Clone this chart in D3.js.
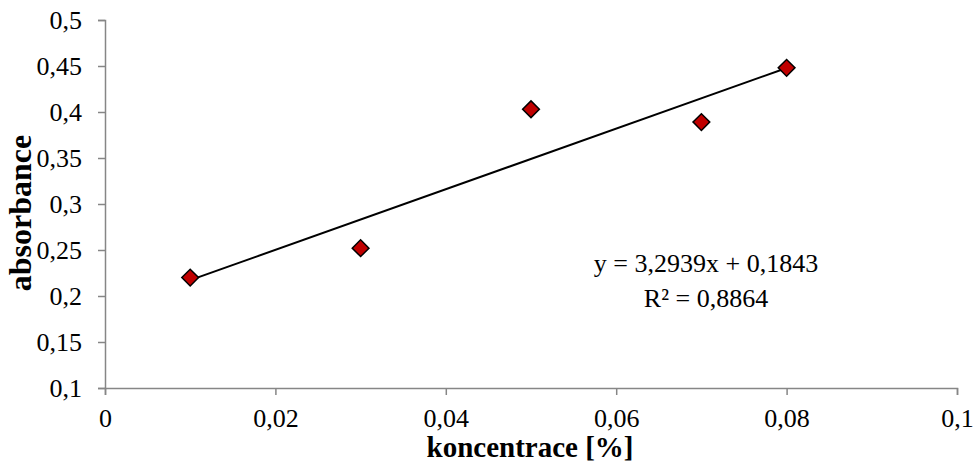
<!DOCTYPE html>
<html>
<head>
<meta charset="utf-8">
<script src="https://cdn.jsdelivr.net/npm/d3@7"></script>
<style>
  body { margin: 0; background: #fff; }
  text { font-family: "Liberation Serif", "Times New Roman", serif; }
</style>
</head>
<body>
<div id="chart"></div>
<script>
const concentration = [0.01, 0.03, 0.05, 0.07, 0.08];
const absorbance = [0.22, 0.252, 0.403, 0.389, 0.448];
const xTicks = [0, 0.02, 0.04, 0.06, 0.08, 0.1];
const yTicks = [0.1, 0.15, 0.2, 0.25, 0.3, 0.35, 0.4, 0.45, 0.5];
const equationLines = ["y = 3,2939x + 0,1843", "R\u00b2 = 0,8864"];

const width = 974;
const height = 472;
const marginTop = 20;
const marginRight = 17;
const marginBottom = 84; // room for x labels + title
const marginLeft = 105;

const fmt = (d) => String(d).replace(".", ",");

const x = d3.scaleLinear().domain([0, 0.1]).range([marginLeft, width - marginRight]);
const y = d3.scaleLinear().domain([0.1, 0.5]).range([height - marginBottom, marginTop]);

const svg = d3.select("#chart").append("svg")
  .attr("width", width)
  .attr("height", height);

// axes
const xAxis = svg.append("g")
  .attr("transform", `translate(0,${y(0.1)})`)
  .call(d3.axisBottom(x).tickValues(xTicks).tickFormat(fmt).tickSize(7).tickSizeOuter(7).tickPadding(14));

const yAxis = svg.append("g")
  .attr("transform", `translate(${x(0)},0)`)
  .call(d3.axisLeft(y).tickValues(yTicks).tickFormat(fmt).tickSize(7).tickSizeOuter(7).tickPadding(16));

[xAxis, yAxis].forEach((g) => {
  g.select(".domain").attr("stroke", "#868686").attr("stroke-width", 1.5);
  g.selectAll(".tick line").attr("stroke", "#868686").attr("stroke-width", 1.5);
  g.selectAll(".tick text")
    .attr("fill", "#000")
    .style("font-size", "26px")
    .style("font-family", "'Liberation Serif', serif");
});

// trendline (least squares)
const mx = d3.mean(concentration);
const my = d3.mean(absorbance);
const slope = d3.sum(concentration, (c, i) => (c - mx) * (absorbance[i] - my)) /
  d3.sum(concentration, (c) => (c - mx) ** 2);
const intercept = my - slope * mx;
const [x0, x1] = d3.extent(concentration);

svg.append("line")
  .attr("x1", x(x0)).attr("y1", y(intercept + slope * x0))
  .attr("x2", x(x1)).attr("y2", y(intercept + slope * x1))
  .attr("stroke", "#000")
  .attr("stroke-width", 2);

// points
const diamond = d3.symbol().type(d3.symbolSquare).size(140);
svg.append("g")
  .selectAll("path")
  .data(concentration.map((c, i) => [c, absorbance[i]]))
  .join("path")
  .attr("d", diamond)
  .attr("transform", (d) => `translate(${x(d[0])},${y(d[1])}) rotate(45)`)
  .attr("fill", "#c00000")
  .attr("stroke", "#000")
  .attr("stroke-width", 1.5);

// equation label
svg.append("text")
  .attr("x", 706)
  .attr("y", 272)
  .attr("text-anchor", "middle")
  .style("font-size", "26px")
  .selectAll("tspan")
  .data(equationLines)
  .join("tspan")
  .attr("x", 706)
  .attr("dy", (d, i) => (i === 0 ? 0 : 35))
  .text((d) => d);

// axis titles
svg.append("text")
  .attr("x", 530)
  .attr("y", 457)
  .attr("text-anchor", "middle")
  .style("font-size", "29px")
  .style("font-weight", "bold")
  .text("koncentrace [%]");

svg.append("text")
  .attr("transform", "translate(31,213) rotate(-90)")
  .attr("text-anchor", "middle")
  .style("font-size", "32px")
  .style("font-weight", "bold")
  .text("absorbance");
</script>
</body>
</html>
